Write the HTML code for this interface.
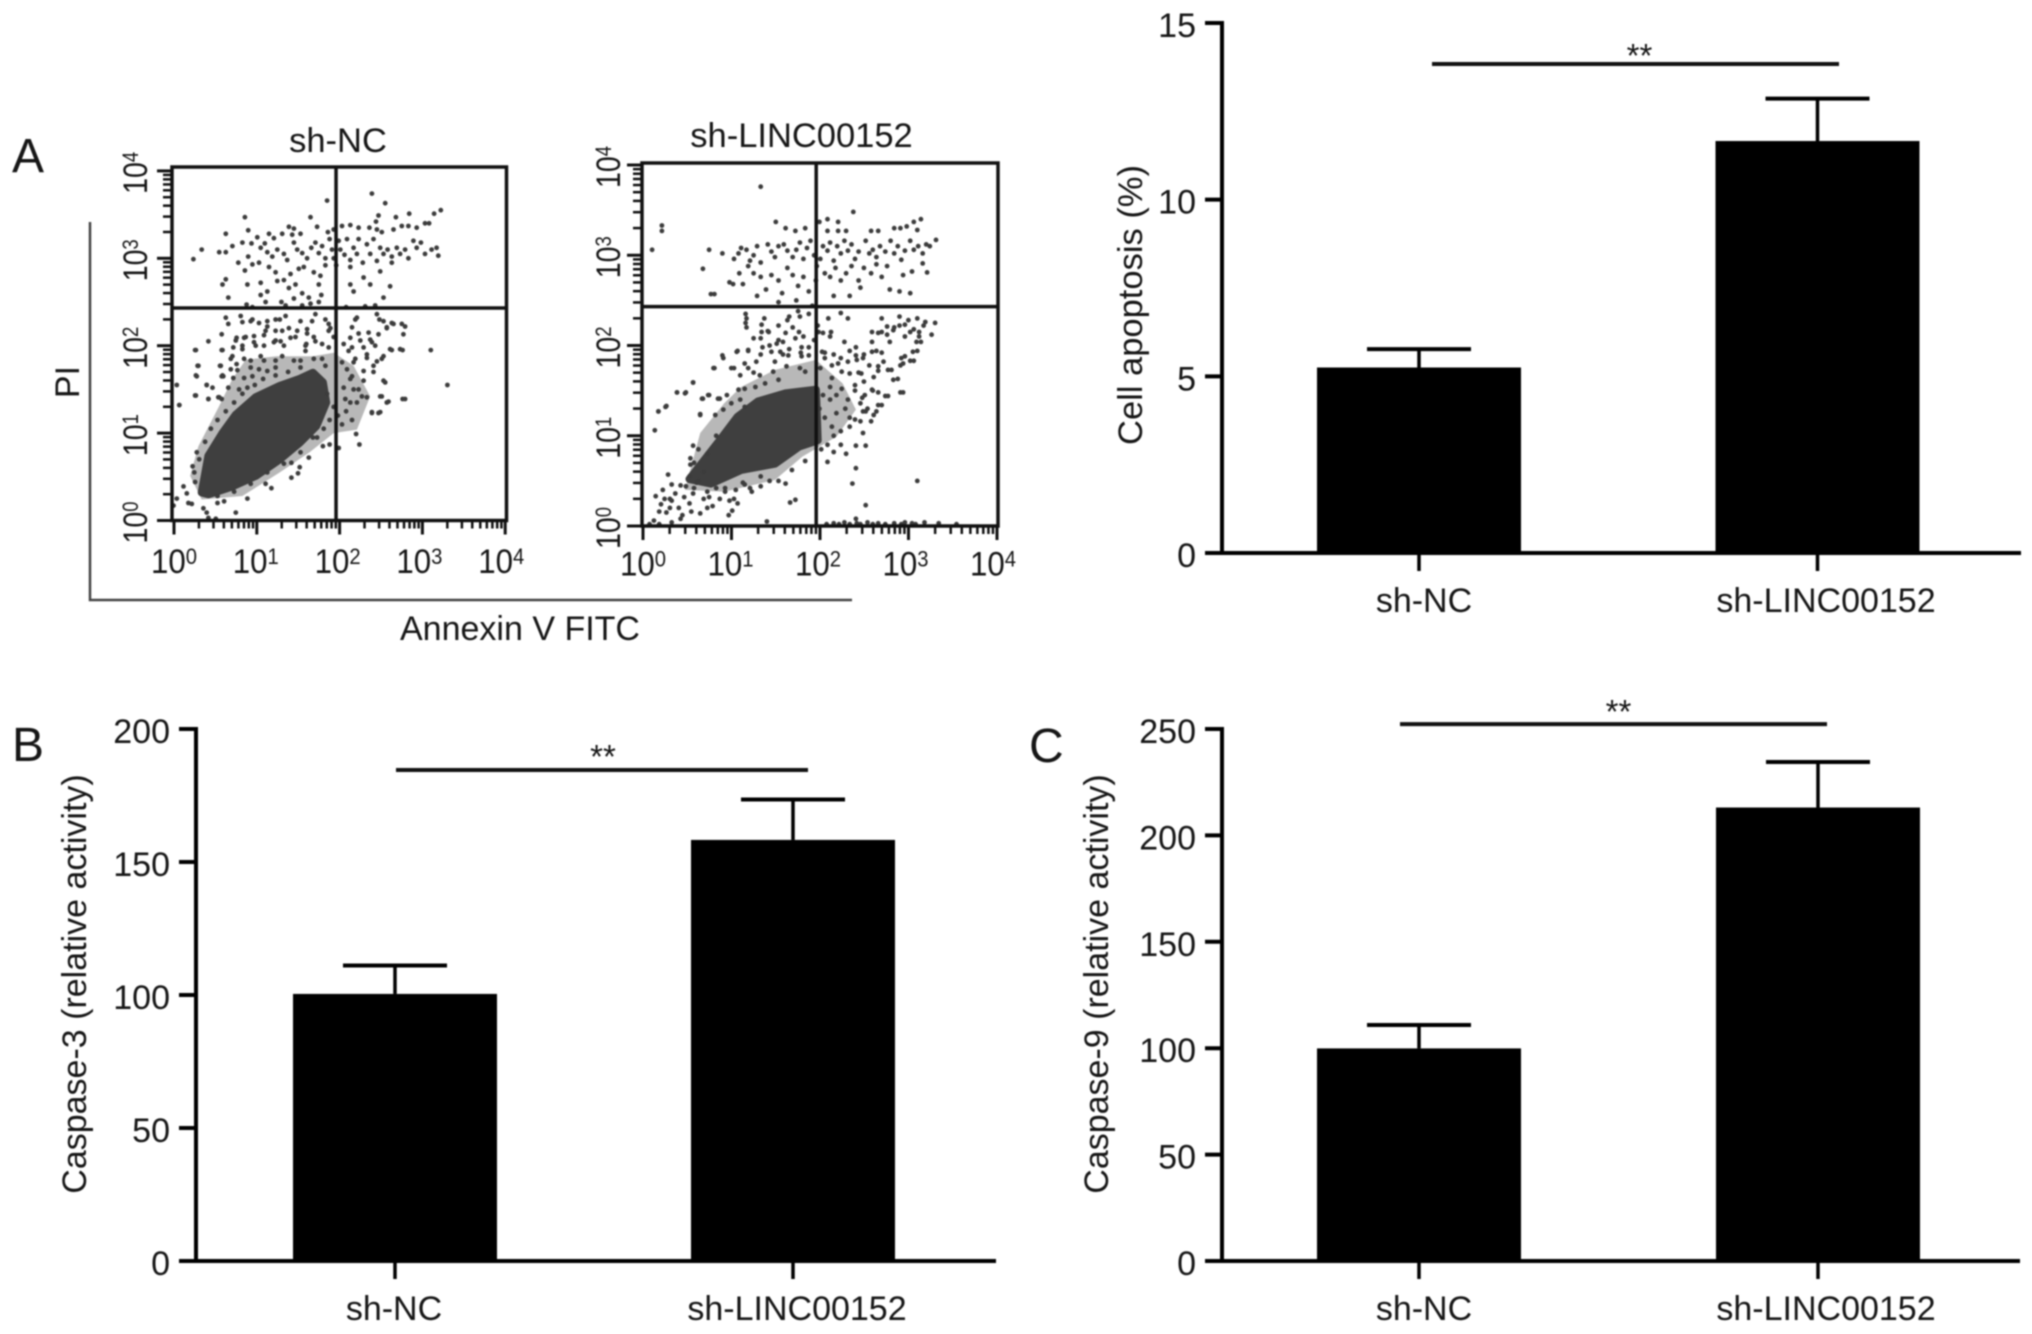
<!DOCTYPE html>
<html lang="en">
<head>
<meta charset="utf-8">
<title>Apoptosis and caspase activity after LINC00152 knockdown</title>
<style>
html,body{margin:0;padding:0;background:#fff;width:2032px;height:1334px;overflow:hidden}
svg{display:block;filter:blur(.7px)}
text{font-family:"Liberation Sans",sans-serif;fill:#161616}
</style>
</head>
<body>
<svg id="figure" xmlns="http://www.w3.org/2000/svg" width="2032" height="1334" viewBox="0 0 2032 1334">
  <rect x="0" y="0" width="2032" height="1334" fill="#fff"/>
  <text x="12" y="172" font-size="48">A</text>
  <text x="12" y="761" font-size="48">B</text>
  <text x="1029" y="762" font-size="48">C</text>
  <text x="338" y="152" font-size="34.5" text-anchor="middle">sh-NC</text>
  <text x="801.5" y="147" font-size="34.5" text-anchor="middle">sh-LINC00152</text>
  <path d="M90 222V600H852" fill="none" stroke="#444" stroke-width="2.5"/>
  <text transform="translate(79,382) rotate(-90)" font-size="34" text-anchor="middle">PI</text>
  <text x="520" y="640" font-size="34" text-anchor="middle">Annexin V FITC</text>
  <g id="flow-nc"></g>
  <g id="flow-linc"></g>
  <g id="bars-apoptosis"></g>
  <g id="bars-casp3"></g>
  <g id="bars-casp9"></g>
</svg>
<script>
/* ---------- bar chart data ---------- */
const groups = ['sh-NC', 'sh-LINC00152'];
const apoptosisMeans = [5.25, 11.66];
const apoptosisErrors = [0.52, 1.2];
const apoptosisTicks = [0, 5, 10, 15];
const apoptosisSignificance = 13.84;
const casp3Means = [100.4, 158.3];
const casp3Errors = [10.7, 15.2];
const casp3Ticks = [0, 50, 100, 150, 200];
const casp3Significance = 184.6;
const casp9Means = [99.9, 213.1];
const casp9Errors = [11, 21.4];
const casp9Ticks = [0, 50, 100, 150, 200, 250];
const casp9Significance = 252.3;

/* ---------- flow cytometry data: [log10 Annexin V, log10 PI] ---------- */
const flowDecades = [0, 1, 2, 3, 4];
const flowGateLog = [1.957, 2.431];
const ncCoreOutline = [[.31,.32],[.39,.74],[.56,1],[.72,1.21],[.96,1.41],[1.25,1.54],[1.49,1.62],[1.65,1.69],[1.77,1.58],[1.81,1.35],[1.69,1.08],[1.49,.89],[1.25,.7],[.96,.51],[.68,.39],[.39,.3]];
const ncHaloOutline = [[.17,.51],[.27,.85],[.52,1.31],[.68,1.62],[.84,1.84],[1.21,1.88],[1.65,1.88],[1.9,1.92],[2.14,1.77],[2.34,1.42],[2.18,1.04],[1.9,1],[1.61,.78],[1.25,.55],[.8,.28],[.31,.24]];
const ncEvents = [
[2.36,3.74],[2.52,3.63],[1.82,3.66],[.83,3.47],[1.62,3.47],[3.19,3.55],[3.11,3.51],[2.81,3.51],[2.65,3.47],[2.44,3.49],[2.41,3.42],[.6,3.28],[.87,3.32],[.31,3.1],[.21,2.99],[.52,3.07],[.6,3.07],[.68,3.14],[.8,3.18],[.91,3.17],[.87,3.02],[.98,3.24],[1.07,3.17],[1.12,3.28],[1.18,3.23],[1.28,3.28],[1.36,3.36],[1.42,3.34],[1.4,3.27],[1.5,3.28],[1.42,3.18],[1.7,3.36],[1.83,3.3],[1.9,3.33],[2.0,3.37],[2.1,3.38],[2.2,3.35],[2.33,3.35],[2.42,3.33],[2.48,3.3],[2.62,3.33],[2.72,3.37],[2.8,3.37],[2.9,3.35],[3.0,3.4],[3.05,3.4],
[1.02,3.12],[1.1,3.07],[1.16,3.02],[1.22,3.1],[1.3,3.05],[1.34,2.98],[1.46,3.1],[1.52,3.06],[1.58,3.0],[1.63,3.12],[1.68,3.18],[1.72,3.06],[1.76,3.14],[1.8,3.0],[1.85,3.22],[1.88,3.1],[1.9,3.0],[1.93,2.92],[1.96,3.2],[1.98,3.1],[2.03,3.04],[2.06,3.22],[2.1,2.98],[2.14,3.12],[2.18,3.05],[2.2,3.22],[2.25,2.95],[2.3,3.16],[2.34,3.05],[2.38,3.22],[2.42,2.97],[2.46,3.12],[2.5,3.05],[2.55,3.1],[2.6,3.02],[2.66,3.12],[2.7,3.05],[2.76,3.1],[2.8,3.0],[2.86,3.2],[2.9,3.12],[2.95,3.18],[3.0,3.05],[3.08,3.1],[3.14,3.12],[3.16,3.03],
[.75,2.95],[.83,2.86],[.92,2.93],[1.0,2.95],[1.12,2.9],[1.2,2.84],[1.3,2.75],[1.38,2.82],[1.48,2.88],[1.54,2.9],[1.66,2.84],[1.74,2.8],[1.8,2.92],[2.1,2.9],[2.26,2.78],[2.34,2.7],[2.46,2.85],[2.6,2.95],[.6,2.76],[.56,2.7],[.86,2.7],[1.02,2.72],[1.1,2.62],[1.22,2.74],[1.36,2.66],[1.44,2.7],[1.52,2.6],[1.6,2.55],[1.72,2.7],[1.75,2.58],[2.1,2.7],[2.14,2.62],[2.5,2.55],[2.58,2.68],[.63,2.55],[.85,2.47],[.92,2.44],[1.02,2.58],[1.08,2.5],[1.27,2.5],[1.32,2.46],[1.42,2.54],[1.52,2.46],[1.62,2.48],[1.72,2.5],[2.05,2.44],[2.28,2.45],[2.4,2.46],
[.6,2.32],[.78,2.34],[.92,2.3],[1.0,2.26],[1.1,2.22],[1.2,2.3],[1.32,2.34],[1.36,2.2],[1.5,2.28],[1.58,2.14],[1.68,2.36],[1.8,2.3],[1.86,2.2],[2.16,2.3],[2.2,2.14],[2.45,2.3],[2.54,2.2],[2.6,2.26],[2.76,2.22],[.72,2.06],[.84,2.1],[.96,2.0],[1.06,2.12],[1.2,2.06],[1.3,2.0],[1.44,2.1],[1.56,2.0],[1.66,2.1],[1.76,2.02],[1.9,2.1],[2.02,2.02],[2.12,1.98],[2.22,2.06],[2.3,1.9],[2.4,2.0],[2.5,1.88],[2.6,1.95],[2.73,1.95],[3.07,1.95],[3.27,1.55],[2.76,1.39],[2.56,1.36],[2.46,1.24],[2.36,1.24],[2.21,.87],[2.17,.99],[2.52,1.58],[2.48,1.42],[2.3,1.41],[2.26,1.6],[2.38,1.7],[2.42,1.82],[2.12,1.65],[2.2,1.5],
[.01,1.55],[.24,1.95],[.26,1.77],[.24,1.66],[.37,1.55],[.24,1.43],[.39,1.39],[.04,1.32],[.54,1.77],[.56,1.95],[.56,1.66],[.52,1.41],[.66,1.85],[.74,1.72],[.8,1.96],[.44,1.52],[-.03,.17],[.01,.25],[.09,.39],[.13,.31],[.15,.2],[.19,.19],[.33,.14],[.37,.09],[.39,.03],[.48,.02],[.72,.09],[.58,.22],[1.39,.49],[1.49,.61],[1.47,.54],[1.39,.66],[1.77,.85],[1.85,.87],[1.96,.83],[.23,.44],[.2,.62],[.25,.78],[.5,.2],[.86,.25],[1.08,.42],[1.15,.37],[1.6,.72],[1.7,.95],
[.63,2.25],[.8,2.27],[.9,2.28],[1.1,2.28],[1.25,2.3],[1.64,2.28],[1.84,2.25],[.55,2.13],[.39,2.05],[.23,1.95],[.55,1.95],[.73,2.09],[.82,2.09],[.94,2.11],[1.08,2.17],[1.2,2.17],[1.28,2.17],[1.46,2.17],[1.58,2.19],[1.84,2.17],[1.18,2.04],[1.26,2.05],[1.38,2.09],[1.68,2.05],[.69,1.98],[.8,2],[.94,2.04],[1.06,2],[1.57,2.02],[1.56,1.94],[1.28,1.88],[1.2,1.83],[1.02,1.88],[1.06,1.83],[.82,1.85],[.9,1.83],[.68,1.88],[.73,1.79],[.66,1.73],[.9,1.75],[1,1.73],[1.1,1.71],[1.2,1.75],[1.42,1.83],[1.5,1.83],[1.66,1.85],[1.76,1.85],[1.8,1.77],[1.84,1.98],[.57,1.65],[.69,1.63],[.82,1.63],[.92,1.65],[.63,1.52],[.76,1.5],[.86,1.52],[.55,1.39],[.27,1.77],[.25,1.65],[.53,1.77],[.55,1.65],[.37,1.55],[.23,1.43],[.39,1.39],[.51,1.41],[.04,1.32],
[2,1.81],[2.08,1.94],[2.06,1.73],[2.14,1.81],[2.16,1.85],[2.3,1.86],[2.38,1.77],[2.48,1.85],[2.58,1.96],[2.7,1.96],[2.26,1.71],[2.5,1.6],[2.1,1.62],[2.02,1.52],[2.14,1.5],[2.24,1.42],[2.18,1.35],[2.46,1.42],[2.54,1.35],[2.36,1.23],[2.44,1.23],[2.73,1.39],[2.04,1.39],[2.12,2.21],[2.32,2.15],[2.34,2.07],[2.44,2.13],[2.5,2.28],[2.54,2.21],[2.62,2.25],[2.72,2.25],[2.74,2.13],[2.18,2.32],[2.42,2.36],[2.1,2.09],[2.26,1.98],[2.36,2.04],
[1.82,1.45],[1.9,1.3],[1.95,1.2],[2.0,1.1],[2.05,1.25],[2.1,1.35],[1.85,1.15],[1.78,1.05],[2.12,1.15],[.22,.55],[.28,.7],[.35,.9],[.42,1.05],[.5,1.15],[.6,1.25],[.7,1.35],[.8,1.45],[.95,1.55],[1.05,1.62],[1.2,1.66],[1.35,1.7],[1.5,1.75],[.5,.28],[.7,.33],[.9,.42],[1.1,.55],[1.3,.65],[1.5,.78],[1.65,.95]
];
const lincCoreOutline = [[.5,.52],[.84,.95],[1.04,1.21],[1.27,1.38],[1.58,1.47],[1.92,1.51],[1.94,.95],[1.73,.88],[1.46,.69],[1.08,.62],[.74,.47]];
const lincHaloOutline = [[.45,.4],[.62,1.03],[.89,1.36],[1.08,1.54],[1.46,1.73],[1.92,1.84],[2.22,1.58],[2.37,1.29],[2.15,.99],[1.77,.77],[1.46,.51],[.89,.38]];
const lincEvents = [
[1.3,3.76],[2.34,3.48],[1.47,3.37],[.19,3.33],[.19,3.27],[.08,3.06],[.72,3.06],[.87,3.02],[.65,2.85],[.74,2.57],[.78,2.57],[.95,2.7],[.99,2.68],[3.27,3.17],[3.1,3.4],[3.02,3.37],[3.06,3.28],[2.94,3.32],[2.87,3.3],[2.8,3.3],[2.62,3.27],[2.54,3.27],[2.26,3.27],[2.17,3.37],[2.05,3.4],[1.96,3.37],[2.05,3.27],[2.17,3.27],[1.8,3.3],[1.69,3.27],[1.58,3.3],[3.17,2.81],[3.12,2.91],
[1.0,2.96],[1.05,3.02],[1.08,3.08],[1.14,3.06],[1.18,2.94],[1.22,3.0],[1.26,3.1],[1.3,2.92],[1.38,3.12],[1.42,3.04],[1.46,2.98],[1.5,3.1],[1.56,3.12],[1.6,3.05],[1.66,2.98],[1.7,3.06],[1.74,3.14],[1.78,2.96],[1.82,3.08],[1.86,3.16],[1.9,3.0],[1.93,2.88],[1.97,2.96],[2.0,3.1],[2.05,3.05],[2.08,3.14],[2.12,2.94],[2.16,3.1],[2.2,3.02],[2.24,3.16],[2.28,3.05],[2.32,3.12],[2.36,2.96],[2.4,3.04],[2.48,3.16],[2.52,3.02],[2.56,3.06],[2.6,2.98],[2.64,3.1],[2.7,3.04],[2.76,3.16],[2.8,3.02],[2.84,3.1],[2.88,2.95],[2.92,3.05],[2.98,3.16],[3.02,3.06],[3.07,3.1],[3.12,3.02],[3.16,3.12],[3.2,3.1],
[1.06,2.8],[1.1,2.68],[1.16,2.88],[1.22,2.8],[1.3,2.76],[1.36,2.62],[1.42,2.78],[1.5,2.72],[1.54,2.58],[1.6,2.86],[1.66,2.78],[1.72,2.66],[1.78,2.76],[1.84,2.6],[1.92,2.72],[2.02,2.8],[2.08,2.76],[2.14,2.86],[2.2,2.72],[2.26,2.8],[2.32,2.88],[2.4,2.72],[2.46,2.86],[2.54,2.8],[2.6,2.9],[2.66,2.76],[2.72,2.88],[2.9,2.78],[3.0,2.82],[2.12,2.55],[2.3,2.55],[2.42,2.64],[2.75,2.62],[2.86,2.6],[2.98,2.58],[1.26,2.55],[1.5,2.48],[1.7,2.5],[1.88,2.44],
[1.14,2.3],[1.14,2.2],[1.34,2.3],[1.62,2.32],[1.66,2.2],[1.72,2.38],[1.84,2.35],[1.94,2.22],[2.06,2.3],[2.2,2.36],[2.28,2.3],[2.66,2.3],[2.86,2.32],[2.86,2.22],[2.96,2.28],[3.06,2.3],[3.15,2.26],[3.02,2.18],[2.62,2.14],[2.72,2.12],[2.8,2.2],[2.92,2.1],[3.08,2.1],[1.3,2.08],[1.38,2.16],[1.5,2.06],[1.58,2.14],[1.78,2.1],[1.9,2.06],[2.0,2.14],[2.08,2.1],
[3.1,2.04],[3.06,1.94],[3.02,1.83],[2.92,1.88],[2.9,1.8],[2.77,1.73],[2.84,1.63],[2.9,1.48],[2.73,1.44],[2.66,1.34],[2.6,1.27],[2.54,1.16],[2.48,1.27],[2.45,1.03],[2.37,.89],[2.48,.89],[2.26,.8],[2.05,.71],[2.37,.64],[2.33,.47],[3.06,.5],[2.48,.23],[2.37,.08],[1.69,.29],[1.63,.26],[1.58,.47],[1.37,.05],[1.04,.25],[.98,.17],[.11,1.06],[.15,1.27],[.23,1.32],[.36,1.48],[.46,1.48],[.54,1.59],[.65,1.41],[.72,1.45],[.84,1.41],[.62,1.24],[.54,.89],[.51,.75],[.51,.68],[.26,.57],[.87,1.89],[.78,1.75],[1.04,1.94],[1.16,1.94],
[1.0,1.75],[1.12,1.8],[1.22,1.7],[1.3,1.9],[1.4,2.0],[1.55,1.9],[1.62,1.96],[1.75,1.92],[1.84,1.98],[2.02,1.92],[2.12,1.9],[2.2,1.86],[2.3,1.94],[2.38,1.84],[2.46,1.9],[2.52,1.78],[2.6,1.94],[2.62,1.72],[2.68,1.82],[2.4,1.7],[2.46,1.6],[2.56,1.5],[2.62,1.48],[2.36,1.5],[2.44,1.42],[2.5,1.3],[2.36,1.18],[2.3,1.1],[2.42,1.16],[2.2,.9],[2.12,.82],
[.12,.33],[.2,.4],[.18,.24],[.24,.15],[.28,.3],[.3,.46],[.34,.36],[.38,.2],[.4,.08],[.44,.32],[.46,.44],[.5,.25],[.54,.36],[.58,.48],[.62,.14],[.66,.3],[.7,.38],[.76,.22],[.8,.42],[.84,.3],[.9,.42],[.94,.12],[1.02,.4],[1.12,.46],[1.2,.38],[1.3,.44],[1.4,.5],[.3,.04],[.1,.06],[.16,.02],[.05,.02],
[2.04,.02],[2.12,.03],[2.18,.02],[2.24,.04],[2.3,.02],[2.38,.03],[2.42,.02],[2.5,.04],[2.56,.02],[2.62,.03],[2.7,.02],[2.8,.03],[2.88,.02],[2.92,.04],[3.0,.03],[3.04,.02],[3.14,.04],[3.3,.03],[3.5,.02],
[1.13,2.35],[1.13,2.25],[1.31,2.23],[1.5,2.22],[1.6,2.28],[1.74,2.32],[1.31,2.15],[1.39,2.15],[1.73,2.15],[1.95,2.15],[2.09,2.15],[2.24,2.04],[2.55,2.15],[2.66,2.15],[2.79,2.17],[2.98,2.15],[3.08,2.15],[3.22,2.12],[3.26,2.25],[3.13,2.22],[2.92,2.23],[2.72,2.21],[2.55,2.04],[2.75,2.04],[3.05,2.04],[1.22,2.08],[1.48,2.02],[1.55,2.04],[1.69,2.08],[1.76,1.98],[2.37,1.98],[2.37,1.89],[2.55,1.93],[2.66,1.92],[3.01,1.93],[2.88,1.86],[2.98,1.83],[2.87,1.78],[2.45,1.86],[2.62,1.77],[2.73,1.73],[2.28,1.82],[2.1,1.78],[2.17,1.8],[1.03,1.93],[1.16,1.95],[1.32,1.98],[1.42,1.93],[1.52,1.93],[1.61,1.89],[.88,1.86],[.77,1.75],[.97,1.75],[1.07,1.67],[1.16,1.75],[1.25,1.82],[1.46,1.82],[1.59,1.77],[1.76,1.88],[1.84,1.89],[1.29,1.67],[1.44,1.71],[1.74,1.75],[1.8,1.71],[1.99,1.93],[2.02,1.86],[1.97,1.75],[2.1,1.64],[2.21,1.71],[2.3,1.69],[2.43,1.69],[2.57,1.65],[2.79,1.62],[2.87,1.48],[2.55,1.51],[2.7,1.44],[2.47,1.45],[2.36,1.56],[2.21,1.52],[2.08,1.54],[2.28,1.4],[2.42,1.36],[2.62,1.34],[2.45,1.27],[2.57,1.23],[.54,1.59],[.36,1.48],[.45,1.47],[.24,1.33],[.15,1.27],[.64,1.41],[.71,1.45],[.82,1.41],[.92,1.45],[1.05,1.51],[1.12,1.52],[1.24,1.54],[1.35,1.58],[1.5,1.62],[1.07,1.4],[.97,1.36],[1.12,1.32],[.88,1.29],[.79,1.23],[.62,1.23],
[1.96,1.3],[2.02,1.2],[2.1,1.1],[2.15,1.25],[2.2,1.05],[2.05,.9],[2.12,1.0],[1.98,.85],[2.25,1.3],[2.3,1.2],[2.0,1.45],[2.08,1.4],[2.15,1.45],[1.8,.72],[1.65,.62],[1.5,.5],[1.3,.55],[1.1,.48],[.9,.38],[.7,.2],[.6,.5],[.5,.55],[.4,.45],[.3,.28],[.55,.42],[.66,.6],[.7,.8],[.8,1.0],[.55,.7],[.6,.85],[.28,.2],[.42,.12],[.22,.3],[.16,.16],[.52,.16],[.72,.32],[1.0,.3],[1.18,.42],[.95,.28]
];

/* ---------- drawing ---------- */
const NS = 'http://www.w3.org/2000/svg';

function drawLine(parent, name, x1, y1, x2, y2, width, color) {
  const el = document.createElementNS(NS, 'line');
  
  
  el.setAttribute('x1', x1);
  el.setAttribute('y1', y1);
  el.setAttribute('x2', x2);
  el.setAttribute('y2', y2);
  el.setAttribute('stroke', color || '#111');
  el.setAttribute('stroke-width', width);
  parent.appendChild(el);
  return el;
}

function drawText(parent, name, x, y, size, anchor, content) {
  const el = document.createElementNS(NS, 'text');
  
  
  el.setAttribute('x', x);
  el.setAttribute('y', y);
  el.setAttribute('font-size', size);
  el.setAttribute('text-anchor', anchor);
  el.textContent = content;
  parent.appendChild(el);
  return el;
}

function drawBarChart(id, layout, means, errors, ticks, significance, yTitle) {
  const g = document.getElementById(id);
  const yScale = v => layout.y0 - (v / layout.max) * (layout.y0 - layout.yTop);
  means.forEach((m, i) => {
    const cx = layout.centers[i];
    const bar = document.createElementNS(NS, 'rect');
    
    
    bar.setAttribute('x', cx - 102);
    bar.setAttribute('y', yScale(m));
    bar.setAttribute('width', 204);
    bar.setAttribute('height', layout.y0 - yScale(m));
    bar.setAttribute('fill', '#000');
    g.appendChild(bar);
    const capY = yScale(m + errors[i]);
    drawLine(g, 'error-stem-' + groups[i].toLowerCase(), cx, yScale(m), cx, capY, 3.5, '#000');
    drawLine(g, 'error-cap-' + groups[i].toLowerCase(), cx - 52, capY, cx + 52, capY, 4, '#000');
    drawLine(g, 'x-tick-' + groups[i].toLowerCase(), cx, layout.y0, cx, layout.y0 + 18, 3.5, '#000');
    drawText(g, 'x-label-' + groups[i].toLowerCase(), cx + layout.labelShift[i], layout.y0 + 59, 34, 'middle', groups[i]);
  });
  drawLine(g, 'y-axis-line', layout.x, layout.yTop - 2, layout.x, layout.y0 + 2, 4, '#000');
  drawLine(g, 'x-axis-line', layout.x - 16, layout.y0, layout.xEnd, layout.y0, 4, '#000');
  ticks.forEach(t => {
    drawLine(g, 'y-tick-' + t, layout.x - 17, yScale(t), layout.x, yScale(t), 4, '#000');
    drawText(g, 'y-label-' + t, layout.x - 26, yScale(t) + 14, 34, 'end', String(t));
  });
  const title = drawText(g, 'y-axis-title', 0, 0, layout.titleSize, 'middle', yTitle);
  title.setAttribute('transform', 'translate(' + layout.titleX + ',' + layout.titleY + ') rotate(-90)');
  const sigY = yScale(significance);
  drawLine(g, 'significance-line', layout.sig[0], sigY, layout.sig[1], sigY, 4, '#111');
  drawText(g, 'significance-stars', (layout.sig[0] + layout.sig[1]) / 2 + layout.starShift, sigY + layout.starDy, 33, 'middle', '**');
}

function drawFlowPlot(id, layout, core, halo, events) {
  const g = document.getElementById(id);
  const xScale = d => layout.x0 + d * layout.xStep;
  const yScale = d => layout.y0 - d * layout.yStep;
  const eventX = d => layout.x0 + layout.eventDx + d * layout.eventStep;
  const outline = pts => pts.map(p => eventX(p[0]).toFixed(1) + ',' + yScale(p[1]).toFixed(1)).join(' ');

  const haloEl = document.createElementNS(NS, 'polygon');
  
  
  haloEl.setAttribute('points', outline(halo));
  haloEl.setAttribute('fill', '#555');
  haloEl.setAttribute('fill-opacity', '0.42');
  g.appendChild(haloEl);

  const coreEl = document.createElementNS(NS, 'polygon');
  
  
  coreEl.setAttribute('points', outline(core));
  coreEl.setAttribute('fill', '#3f3f3f');
  coreEl.setAttribute('stroke', '#3f3f3f');
  coreEl.setAttribute('stroke-width', '8');
  coreEl.setAttribute('stroke-linejoin', 'round');
  g.appendChild(coreEl);

  events.forEach(p => {
    const dot = document.createElementNS(NS, 'circle');
    
    
    dot.setAttribute('cx', eventX(p[0]).toFixed(1));
    dot.setAttribute('cy', yScale(p[1]).toFixed(1));
    dot.setAttribute('r', '2.4');
    dot.setAttribute('fill', '#3c3c3c');
    g.appendChild(dot);
  });

  const frame = document.createElementNS(NS, 'rect');
  
  
  frame.setAttribute('x', layout.left);
  frame.setAttribute('y', layout.top);
  frame.setAttribute('width', layout.right - layout.left);
  frame.setAttribute('height', layout.bottom - layout.top);
  frame.setAttribute('fill', 'none');
  frame.setAttribute('stroke', '#111');
  frame.setAttribute('stroke-width', '3.5');
  g.appendChild(frame);

  drawLine(g, 'annexin-gate-line', xScale(flowGateLog[0]), layout.top, xScale(flowGateLog[0]), layout.bottom, 3.5, '#111');
  drawLine(g, 'pi-gate-line', layout.left, yScale(flowGateLog[1]), layout.right, yScale(flowGateLog[1]), 3.5, '#111');

  flowDecades.forEach(d => {
    const xTick = xScale(d);
    const yTick = yScale(d);
    drawLine(g, 'x-major-tick', xTick, layout.bottom, xTick, layout.bottom + 14, 3, '#111');
    drawLine(g, 'y-major-tick', layout.left - 15, yTick, layout.left, yTick, 3, '#111');

    const xLabel = drawText(g, 'x-tick-label', 0, 0, 34, 'middle', '10');
    xLabel.setAttribute('transform', 'translate(' + (xTick - d * layout.labelDrift) + ',' + layout.labelY + ') scale(.92,1)');
    const xSup = document.createElementNS(NS, 'tspan');
    xSup.setAttribute('dy', '-9');
    xSup.setAttribute('font-size', '22');
    xSup.textContent = String(d);
    xLabel.appendChild(xSup);

    const yLabel = drawText(g, 'y-tick-label', 0, 0, 34, 'middle', '10');
    yLabel.setAttribute('transform', 'translate(' + layout.yLabelX + ',' + (yTick + 2) + ') rotate(-90) scale(.84,1)');
    const ySup = document.createElementNS(NS, 'tspan');
    ySup.setAttribute('dy', '-9');
    ySup.setAttribute('font-size', '22');
    ySup.textContent = String(d);
    yLabel.appendChild(ySup);

    if (d < 4) {
      [2, 3, 4, 5, 6, 7, 8, 9].forEach(m => {
        const offset = d + Math.log10(m);
        drawLine(g, 'x-minor-tick', xScale(offset), layout.bottom, xScale(offset), layout.bottom + 8, 2.5, '#111');
        drawLine(g, 'y-minor-tick', layout.left - 9, yScale(offset), layout.left, yScale(offset), 2.5, '#111');
      });
    }
  });
}

drawFlowPlot('flow-nc', {x0:174, xStep:82.8, eventDx:2, eventStep:83, y0:520.5, yStep:87.4, left:172, right:506.5, top:167, bottom:520.5, labelY:573, yLabelX:147, labelDrift:1}, ncCoreOutline, ncHaloOutline, ncEvents);
drawFlowPlot('flow-linc', {x0:643, xStep:88.5, eventDx:2, eventStep:89, y0:526, yStep:90.25, left:642, right:998, top:163, bottom:526, labelY:575.5, yLabelX:620, labelDrift:1}, lincCoreOutline, lincHaloOutline, lincEvents);

drawBarChart('bars-apoptosis', {x:1222, xEnd:2021, y0:553, yTop:23, max:15, centers:[1419,1817.5], labelShift:[5,8.5], titleX:1142, titleY:305, titleSize:34.5, sig:[1432,1839], starShift:4, starDy:3}, apoptosisMeans, apoptosisErrors, apoptosisTicks, apoptosisSignificance, 'Cell apoptosis (%)');
drawBarChart('bars-casp3', {x:196, xEnd:996, y0:1261, yTop:729, max:200, centers:[395,793], labelShift:[-1,4], titleX:86, titleY:984, titleSize:34, sig:[396,808], starShift:1, starDy:-2}, casp3Means, casp3Errors, casp3Ticks, casp3Significance, 'Caspase-3 (relative activity)');
drawBarChart('bars-casp9', {x:1222, xEnd:2020, y0:1261, yTop:729, max:250, centers:[1419,1818], labelShift:[5,8], titleX:1108, titleY:984, titleSize:34, sig:[1400,1827], starShift:5, starDy:-1}, casp9Means, casp9Errors, casp9Ticks, casp9Significance, 'Caspase-9 (relative activity)');
</script>
</body>
</html>
